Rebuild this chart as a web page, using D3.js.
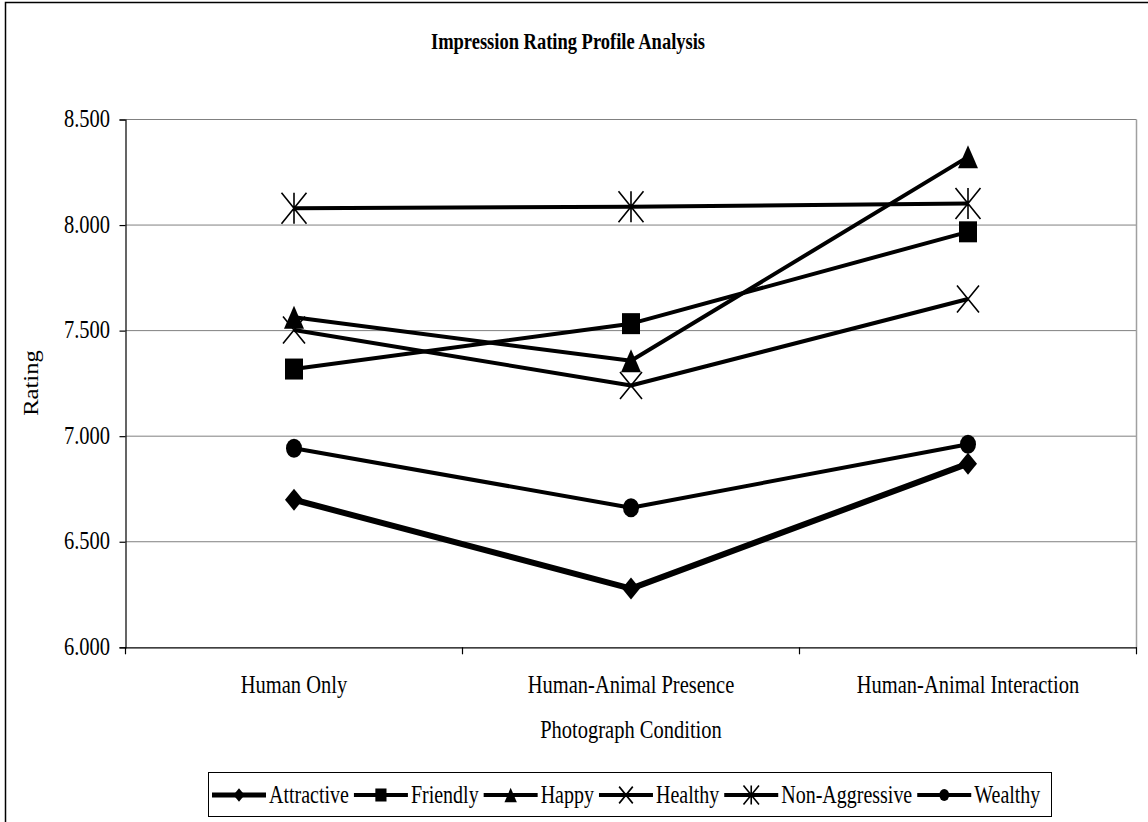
<!DOCTYPE html>
<html><head><meta charset="utf-8">
<script src="https://cdn.jsdelivr.net/npm/d3@7"></script>
<style>html,body{margin:0;padding:0;background:#fff;} svg{display:block;font-family:"Liberation Serif","Times New Roman",serif;}</style>
</head><body>
<svg id="c" width="1148" height="822"></svg>
<script>
const categories = ["Human Only", "Human-Animal Presence", "Human-Animal Interaction"];
const seriesNames = ["Attractive", "Friendly", "Happy", "Healthy", "Non-Aggressive", "Wealthy"];
const attractive = [6.699, 6.278, 6.870];
const friendly = [7.318, 7.533, 7.968];
const happy = [7.563, 7.357, 8.323];
const healthy = [7.503, 7.240, 7.650];
const nonAggressive = [8.080, 8.087, 8.102];
const wealthy = [6.943, 6.661, 6.962];
const yTicks = [6.0, 6.5, 7.0, 7.5, 8.0, 8.5];
const title = "Impression Rating Profile Analysis";
const xTitle = "Photograph Condition";
const yTitle = "Rating";

const seriesValues = [attractive, friendly, happy, healthy, nonAggressive, wealthy];
const markerTypes = ["diamond", "square", "triangle", "x", "asterisk", "circle"];
const lineWidths = [6, 4, 4, 4, 4, 4];

const svg = d3.select("#c");
const L = 125.5, R = 1136.5, T = 119.5, B = 647.3;
const SY = 1.28;

const x = d3.scaleBand().domain(categories).range([L, R]);
const y = d3.scaleLinear().domain([6, 8.5]).range([B, T]);
const cx = c => x(c) + x.bandwidth() / 2;

// outer chart border
svg.append("path").attr("d", `M5.5,830 L5.5,2.5 L1160,2.5`).attr("fill","none").attr("stroke","#000").attr("stroke-width",1.5);

function stext(g, str, px, py, size, opts = {}) {
  const gg = g.append("g").attr("transform", `translate(${px},${py}) ${opts.rot ? "rotate(-90)" : ""} scale(${opts.rot ? opts.sy : 1},${opts.rot ? 1 : (opts.sy || SY)})`);
  const t = gg.append("text").attr("x", 0).attr("y", 0).attr("font-size", size)
    .attr("text-anchor", opts.anchor || "middle").attr("fill", "#000").text(str);
  if (opts.bold) t.attr("font-weight", "bold");
  return t;
}

// gridlines
svg.append("g").selectAll("line").data(yTicks.slice(1)).join("line")
  .attr("x1", L).attr("x2", R).attr("y1", d => y(d)).attr("y2", d => y(d))
  .attr("stroke", "#808080").attr("stroke-width", 1);
// plot border (right)
svg.append("line").attr("x1", R).attr("x2", R).attr("y1", T).attr("y2", B).attr("stroke", "#a0a0a0").attr("stroke-width", 1.5);

// y axis
const yAxis = d3.axisLeft(y).tickValues(yTicks).tickSize(6).tickFormat(() => "");
const ya = svg.append("g").attr("transform", `translate(${L},0)`).call(yAxis);
ya.selectAll("path,line").attr("stroke", "#000").attr("stroke-width", 1.2);
yTicks.forEach(v => stext(svg, d3.format(".3f")(v), 110, y(v) + 7.5, 20.5, {anchor: "end"}));

// x axis
const xAxis = d3.axisBottom(x).tickValues([]).tickSizeOuter(0);
const xa = svg.append("g").attr("transform", `translate(0,${B})`).call(xAxis);
xa.selectAll("path").attr("stroke", "#000").attr("stroke-width", 1.2);
const bounds = categories.map(c => x(c)).concat([R]);
svg.append("g").selectAll("line").data(bounds).join("line")
  .attr("x1", d => d).attr("x2", d => d).attr("y1", B).attr("y2", B + 7)
  .attr("stroke", "#000").attr("stroke-width", 1.2);
categories.forEach(c => stext(svg, c, cx(c), 693, 20.5));

// titles
stext(svg, title, 568, 49, 18.5, {bold: true, sy: 1.3});
stext(svg, xTitle, 631, 738, 20.5);
stext(svg, yTitle, 38, 383, 20.5, {rot: true, sy: 1.2});

// marker paths (w,h)
function markerPath(type, w, h) {
  const a = w / 2, b = h / 2;
  switch (type) {
    case "diamond": return `M0,${-b}L${a},0L0,${b}L${-a},0Z`;
    case "square": return `M${-a},${-b}H${a}V${b}H${-a}Z`;
    case "triangle": return `M0,${-b}L${a},${b}H${-a}Z`;
    case "circle": return `M${-a},0A${a},${b} 0 1,0 ${a},0A${a},${b} 0 1,0 ${-a},0Z`;
    case "x": return `M${-a},${-b}L${a},${b}M${a},${-b}L${-a},${b}`;
    case "asterisk": return `M${-a},${-b}L${a},${b}M${a},${-b}L${-a},${b}M0,${-b}V${b}`;
  }
}
const markerSize = {diamond:[18,22], square:[18,21], triangle:[20,23], circle:[16,19], x:[22,27], asterisk:[25,31]};
function drawMarker(g, type, px, py, scale) {
  const [w, h] = markerSize[type];
  const open = type === "x" || type === "asterisk";
  g.append("path").attr("d", markerPath(type, w * scale, h * scale))
    .attr("transform", `translate(${px},${py})`)
    .attr("fill", open ? "none" : "#000").attr("stroke", "#000")
    .attr("stroke-width", open ? 1.6 : 0);
}

const line = d3.line().x((d, i) => cx(categories[i])).y(d => y(d));
seriesValues.forEach((vals, si) => {
  const g = svg.append("g");
  g.append("path").datum(vals).attr("d", line).attr("fill", "none")
    .attr("stroke", "#000").attr("stroke-width", lineWidths[si]).attr("stroke-linejoin", "round");
  vals.forEach((v, i) => drawMarker(g, markerTypes[si], cx(categories[i]), y(v), 1));
});

// legend
const lg = svg.append("g");
lg.append("rect").attr("x", 208.5).attr("y", 772.5).attr("width", 843).attr("height", 44)
  .attr("fill", "#fff").attr("stroke", "#000").attr("stroke-width", 1);
let lx = 212;
const ly = 795;
const symLen = 54;
seriesNames.forEach((name, si) => {
  lg.append("line").attr("x1", lx).attr("x2", lx + symLen).attr("y1", ly).attr("y2", ly)
    .attr("stroke", "#000").attr("stroke-width", lineWidths[si] === 6 ? 5 : 4);
  drawMarker(lg, markerTypes[si], lx + symLen / 2, ly, 0.62);
  const t = stext(lg, name, lx + symLen + 3, ly + 7.5, 20, {anchor: "start", sy: 1.25});
  const w = t.node().getComputedTextLength();
  lx += symLen + 3 + w + 5;
});
</script>
</body></html>
